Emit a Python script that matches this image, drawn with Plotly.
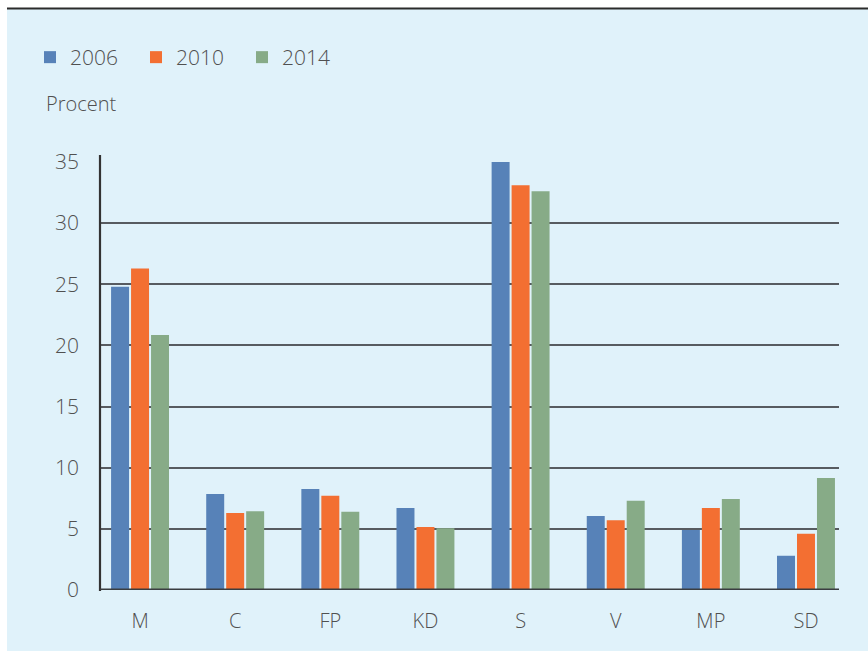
import plotly.graph_objects as go

categories = ["M", "C", "FP", "KD", "S", "V", "MP", "SD"]
years = ["2006", "2010", "2014"]
v2006 = [24.8, 7.85, 8.25, 6.7, 35.0, 6.05, 4.9, 2.8]
v2010 = [26.3, 6.3, 7.7, 5.15, 33.1, 5.7, 6.7, 4.6]
v2014 = [20.85, 6.45, 6.4, 5.05, 32.6, 7.3, 7.45, 9.15]
colors = ["#5782b8", "#f36f32", "#87ab87"]
y_ticks = [0, 5, 10, 15, 20, 25, 30, 35]

BG = "#e0f2fa"
TXT = "#505050"
FONT = "Open Sans"
WT = 300

W, H = 868, 651
L, R, T, B = 100, 29, 162, 61
pw, ph = W - L - R, H - T - B

def px(x):
    return (x - L) / pw

def py(y):
    return (H - B - y) / ph

fig = go.Figure()
for name, vals, c in zip(years, [v2006, v2010, v2014], colors):
    fig.add_trace(go.Bar(name=name, x=categories, y=vals, marker=dict(color=c, line=dict(width=0))))

fig.update_layout(
    width=W, height=H,
    margin=dict(l=L, r=R, t=T, b=B, pad=0),
    paper_bgcolor=BG, plot_bgcolor=BG,
    barmode="group", bargap=0.37, bargroupgap=0.1,
    font=dict(family=FONT, color=TXT, size=20, weight=WT),
    showlegend=True,
    legend=dict(orientation="h", x=px(30), xanchor="left", y=py(37), yanchor="top",
                font=dict(size=21, color=TXT, weight=WT), bgcolor="rgba(0,0,0,0)",
                entrywidth=61, itemclick=False, traceorder="normal"),
    xaxis=dict(range=[-0.421, 7.347], showgrid=False, showline=False, zeroline=False,
               ticks="", ticklabelstandoff=17, tickfont=dict(size=20, color=TXT, weight=WT)),
    yaxis=dict(range=[0, 35], tickvals=y_ticks, showgrid=True, gridcolor="#575b60", gridwidth=1.6,
               zeroline=False, showline=False, ticks="", ticklabelstandoff=20,
               tickfont=dict(size=21, color=TXT, weight=WT)),
    shapes=[
        dict(type="rect", xref="paper", yref="paper", x0=px(-5), x1=px(W + 5), y0=py(-5), y1=py(8),
             fillcolor="white", line=dict(width=0), layer="above"),
        dict(type="rect", xref="paper", yref="paper", x0=px(-5), x1=px(7), y0=py(H + 5), y1=py(-5),
             fillcolor="white", line=dict(width=0), layer="above"),
        dict(type="line", xref="paper", yref="paper", x0=px(7), x1=px(W + 5), y0=py(8.5), y1=py(8.5),
             line=dict(color="#2b2b2b", width=2), layer="above"),
        dict(type="line", xref="paper", yref="paper", x0=0, x1=0, y0=py(591), y1=py(155),
             line=dict(color="#333333", width=2.2), layer="above"),
        dict(type="line", xref="paper", yref="y", x0=0, x1=1, y0=0, y1=0,
             line=dict(color="#3a3d40", width=2.8), layer="above"),
    ],
    annotations=[
        dict(text="Procent", xref="paper", yref="paper", x=px(44), y=py(104), xanchor="left",
             yanchor="middle", showarrow=False, font=dict(size=20, color=TXT, weight=WT)),
    ],
)

fig.write_html("out.html", config={"displayModeBar": False},
               post_script="document.body.style.margin='0';document.body.style.padding='0';")
